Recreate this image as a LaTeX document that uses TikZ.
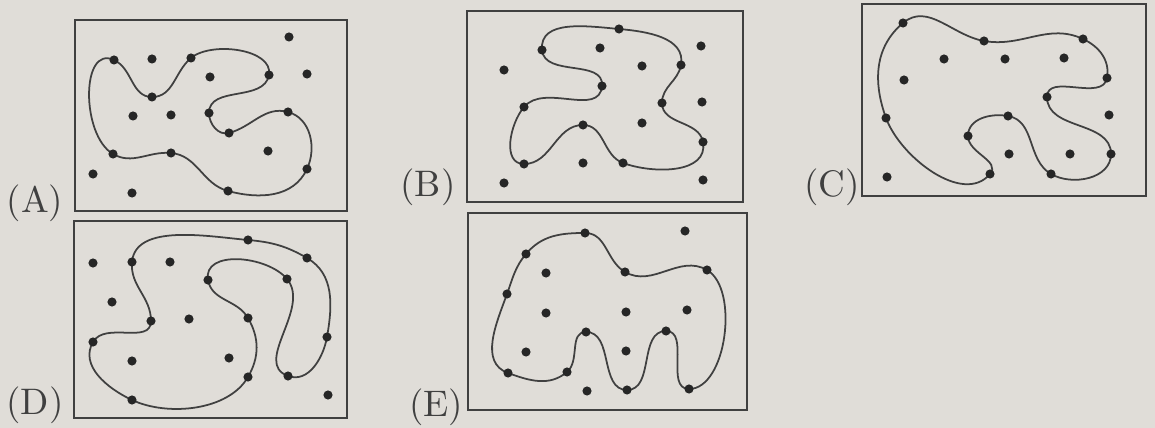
\documentclass[tikz,border=0pt]{standalone}
\definecolor{paper}{RGB}{224,221,216}
\begin{document}
\begin{tikzpicture}[x=0.01cm,y=0.01cm,
  frame/.style={draw=black!75,line width=0.55pt},
  curve/.style={draw=black!75,line width=0.5pt},
  dot/.style={fill=black!85},
  tag/.style={anchor=base,text=black!75,font=\fontsize{10.5}{12}\selectfont}]
\fill[paper] (0,0) rectangle (1155,428);
\useasboundingbox (0,0) rectangle (1155,428);
\foreach \x/\y/\X/\Y in {75/217/347/408,467/226/743/417,862/232/1146/424,74/10/347/207,468/18/747/215}
  \draw[frame] (\x,\y) rectangle (\X,\Y);
\node[tag] (tagA) at (35,215) {(A)};
\node[tag] (tagB) at (428,231) {(B)};
\node[tag] (tagC) at (832,231) {(C)};
\node[tag] (tagD) at (35,13) {(D)};
\node[tag] (tagE) at (436,11) {(E)};
\foreach \n/\x/\y in {1/289/391,2/114/368,3/152/369,4/191/370,5/210/351,6/269/353,7/307/354,8/152/331,9/133/312,10/171/313,
  11/209/315,12/288/316,13/229/295,14/268/277,15/113/274,16/171/275,17/93/254,18/307/259,19/132/235,20/228/237}
  \coordinate (a\n) at (\x,\y);
\foreach \n/\x/\y in {1/619/399,2/542/378,3/600/380,4/701/382,5/504/358,6/642/362,7/681/363,8/602/342,9/524/321,10/662/325,
  11/702/326,12/583/303,13/642/305,14/703/286,15/524/264,16/583/265,17/623/265,18/504/245,19/703/248}
  \coordinate (b\n) at (\x,\y);
\foreach \n/\x/\y in {1/903/405,2/984/387,3/1083/389,4/944/369,5/1005/369,6/1064/370,7/904/348,8/1107/350,9/1047/331,10/886/310,
  11/1008/312,12/1109/313,13/968/292,14/1009/274,15/1070/274,16/1111/274,17/990/254,18/1051/254,19/887/251}
  \coordinate (c\n) at (\x,\y);
\foreach \n/\x/\y in {1/248/188,2/93/165,3/132/166,4/170/166,5/307/170,6/208/148,7/287/149,8/112/126,9/151/107,10/189/109,
  11/248/110,12/93/86,13/327/91,14/132/67,15/229/70,16/248/51,17/288/52,18/328/33,19/132/28}
  \coordinate (d\n) at (\x,\y);
\foreach \n/\x/\y in {1/585/195,2/685/197,3/526/174,4/625/156,5/707/158,6/546/155,7/507/134,8/546/115,9/626/116,10/687/118,
  11/586/96,12/666/97,13/526/76,14/626/77,15/508/55,16/567/56,17/587/37,18/627/38,19/689/39}
  \coordinate (e\n) at (\x,\y);
\draw[curve] (a2) to[out=-25,in=180] (a8) to[out=0,in=220] (a4) to[out=40,in=80,looseness=0.85] (a6)
  to[out=-100,in=90] (a11) to[out=-90,in=195] (a13) to[out=15,in=165] (a12) to[out=-15,in=65] (a18)
  to[out=-115,in=-15] (a20) to[out=165,in=-5] (a16) to[out=175,in=-30] (a15) to[out=150,in=155] (a2);
\draw[curve] (b1) to[out=-5,in=80] (b7) to[out=-100,in=90] (b10) to[out=-90,in=100] (b14) to[out=-80,in=-20] (b17)
  to[out=160,in=0] (b12) to[out=180,in=0] (b15) to[out=180,in=230] (b9) to[out=50,in=265] (b8)
  to[out=85,in=275] (b2) to[out=95,in=175] (b1);
\draw[curve] (c1) to[out=40,in=170] (c2) to[out=-10,in=155] (c3) to[out=-25,in=80] (c8) to[out=-100,in=90] (c9)
  to[out=-90,in=90] (c16) to[out=-90,in=-30] (c18) to[out=150,in=-10] (c11) to[out=170,in=90] (c13)
  to[out=-90,in=50] (c17) to[out=-130,in=-70,looseness=0.9] (c10) to[out=110,in=220] (c1);
\draw[curve] (d3) to[out=85,in=175,looseness=0.85] (d1) to[out=-5,in=150] (d5) to[out=-30,in=80] (d13)
  to[out=-100,in=-20] (d17) to[out=160,in=-50] (d7) to[out=130,in=100] (d6) to[out=-80,in=120] (d11)
  to[out=-60,in=60] (d16) to[out=-120,in=-25,looseness=0.85] (d19) to[out=155,in=-120] (d12)
  to[out=60,in=270] (d9) to[out=90,in=265] (d3);
\draw[curve] (e1) to[out=0,in=150] (e4) to[out=-30,in=150] (e5) to[out=-30,in=0,looseness=0.8] (e19)
  to[out=180,in=0] (e12) to[out=180,in=0] (e18) to[out=180,in=0] (e11) to[out=180,in=40] (e16)
  to[out=-140,in=-20] (e15) to[out=160,in=250] (e7) to[out=70,in=230] (e3) to[out=50,in=180] (e1);
\foreach \p/\k in {a/20,b/19,c/19,d/19,e/19}
  \foreach \n in {1,...,\k} \fill[dot] (\p\n) circle[radius=1.3pt];
\end{tikzpicture}
\end{document}
